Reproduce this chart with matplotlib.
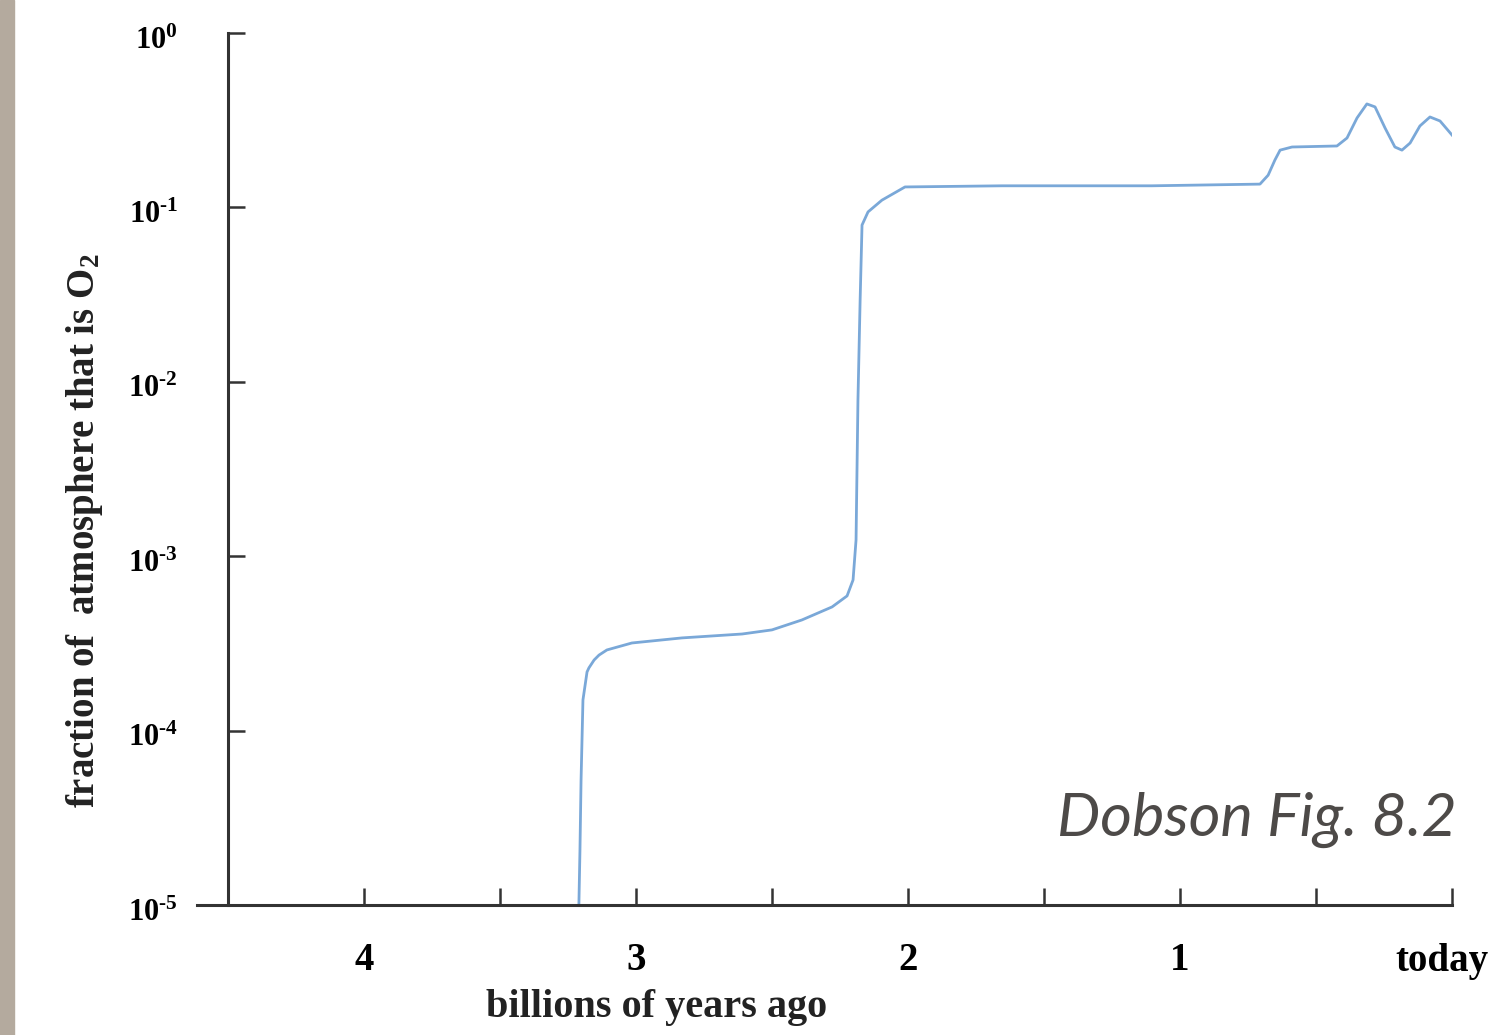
import numpy as np
import matplotlib.pyplot as plt
from matplotlib.patches import Rectangle
from matplotlib.ticker import FixedLocator, NullLocator
from matplotlib.transforms import ScaledTranslation

# O2 history (billions of years ago, fraction of atmosphere)
age = [3.210, 3.206, 3.202, 3.195, 3.180, 3.173, 3.154, 3.136, 3.107, 3.070,
       3.015, 2.831, 2.610, 2.500, 2.390, 2.279, 2.224, 2.202, 2.191, 2.184,
       2.176, 2.169, 2.147, 2.096, 2.011, 1.654, 1.103, 0.706, 0.676, 0.651,
       0.632, 0.588, 0.423, 0.386, 0.349, 0.313, 0.283, 0.246, 0.210, 0.184,
       0.154, 0.118, 0.081, 0.044, 0.000]
o2 = [1.0e-5, 2.07e-5, 5.2e-5, 1.5e-4, 2.17e-4, 2.29e-4, 2.54e-4, 2.71e-4,
      2.90e-4, 3.01e-4, 3.18e-4, 3.40e-4, 3.58e-4, 3.78e-4, 4.31e-4, 5.12e-4,
      5.92e-4, 7.31e-4, 1.24e-3, 7.87e-3, 2.94e-2, 7.92e-2, 9.42e-2, 0.110,
      0.131, 0.133, 0.133, 0.136, 0.153, 0.187, 0.213, 0.222, 0.225, 0.250,
      0.326, 0.392, 0.377, 0.285, 0.222, 0.213, 0.234, 0.293, 0.330, 0.313,
      0.260]

xticks = [4, 3.5, 3, 2.5, 2, 1.5, 1, 0.5, 0]
xticklabels = ['4', '', '3', '', '2', '', '1', '', 'today']
yticks = [1e-5, 1e-4, 1e-3, 1e-2, 1e-1, 1e0]
yticklabels = [r'$10^{\text{-}5}$', r'$10^{\text{-}4}$', r'$10^{\text{-}3}$',
               r'$10^{\text{-}2}$', r'$10^{\text{-}1}$', r'$10^{0}$']

plt.rcParams['mathtext.fontset'] = 'custom'
plt.rcParams['mathtext.rm'] = 'Liberation Serif:bold'
plt.rcParams['mathtext.it'] = 'Liberation Serif:bold'
plt.rcParams['mathtext.bf'] = 'Liberation Serif:bold'
serif = 'Liberation Serif'
ink = '#333333'

W, H = 1493, 1035
fig = plt.figure(figsize=(W / 100, H / 100), dpi=100)
fig.patches.append(Rectangle((0, 0), 14 / W, 1, transform=fig.transFigure,
                             color='#b4aa9e', zorder=0))

ax = fig.add_axes([197 / W, 1 - 905 / H, (1452 - 197) / W, (905 - 33) / H])
ax.plot(age, o2, color='#7aa8d8', lw=2)

ax.set_yscale('log')
ax.set_xlim(4.5 + 31 / 272, 0)
ax.set_ylim(1e-5, 1)

ax.spines['top'].set_visible(False)
ax.spines['right'].set_visible(False)
ax.spines['left'].set_position(('data', 4.5))
for s in ('left', 'bottom'):
    ax.spines[s].set_linewidth(2.2)
    ax.spines[s].set_color(ink)

ax.xaxis.set_major_locator(FixedLocator(xticks))
ax.set_xticklabels(xticklabels, fontfamily=serif, fontweight='bold', fontsize=28)
ax.yaxis.set_major_locator(FixedLocator(yticks))
ax.yaxis.set_minor_locator(NullLocator())
ax.set_yticklabels(yticklabels, fontsize=22)
ax.tick_params(axis='x', direction='in', length=12, width=1.8, color=ink, pad=27)
ax.tick_params(axis='y', direction='in', length=12, width=1.8, color=ink, pad=36)

# "today" sits a little left of its tick in the original
today = ax.get_xticklabels()[-1]
today.set_transform(today.get_transform() + ScaledTranslation(-0.1, 0, fig.dpi_scale_trans))
for lab in ax.get_yticklabels():
    lab.set_transform(lab.get_transform() + ScaledTranslation(0, -0.04, fig.dpi_scale_trans))

fig.text(657 / W, 1 - 1007 / H, 'billions of years ago', ha='center', va='center',
         fontfamily=serif, fontweight='bold', fontsize=29, color='#222222')
fig.text(85 / W, 1 - 531 / H, 'fraction of  atmosphere that is O$_2$', rotation=90,
         ha='center', va='center', fontfamily=serif, fontweight='bold',
         fontsize=28, color='#222222')
fig.text(1457 / W, 1 - 820 / H, 'Dobson Fig. 8.2', ha='right', va='center',
         fontfamily='Lato', style='italic', fontsize=44, color='#4d4a48')

fig.savefig('out.png', dpi=100)
